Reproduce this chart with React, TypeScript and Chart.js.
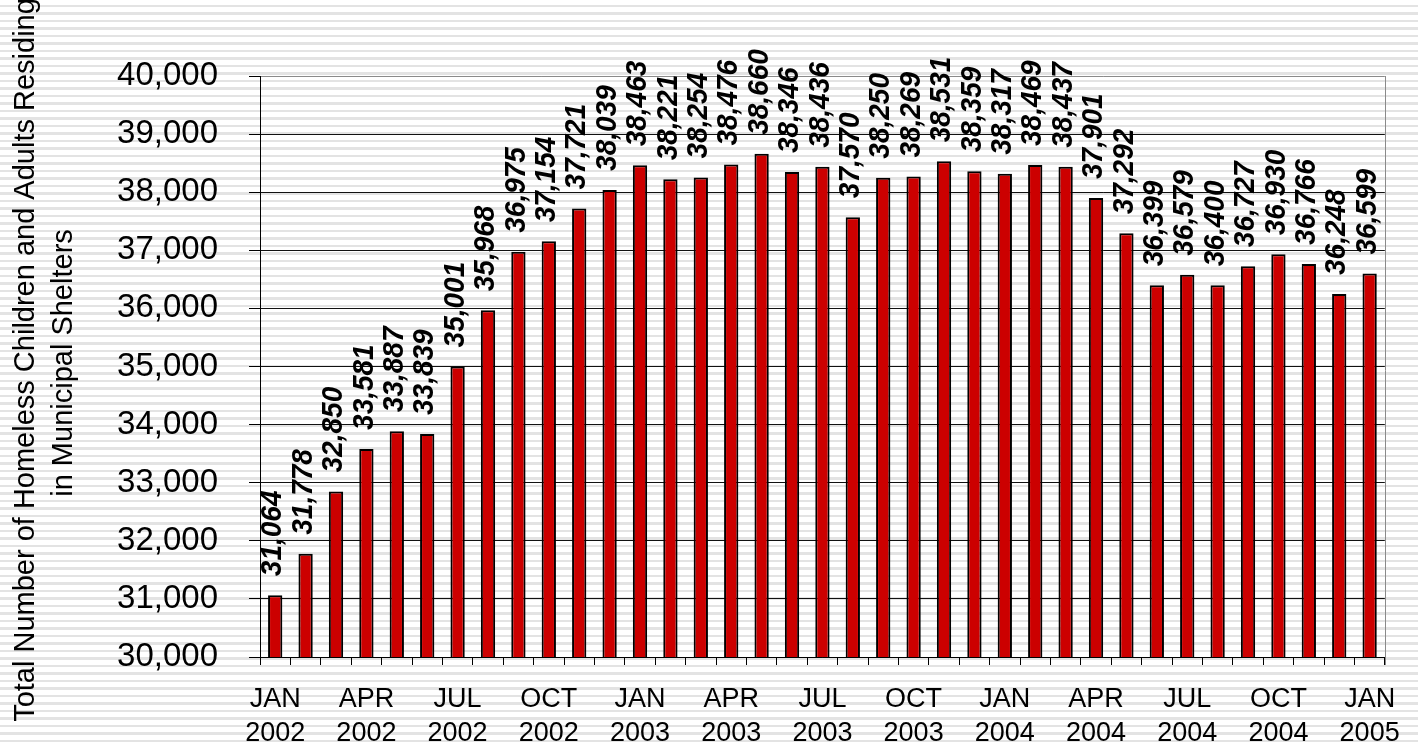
import { useEffect, useRef } from "react";
import { Chart, registerables } from "chart.js";

Chart.register(...registerables);

const categories = [
  "JAN 2002", "FEB 2002", "MAR 2002", "APR 2002", "MAY 2002", "JUN 2002",
  "JUL 2002", "AUG 2002", "SEP 2002", "OCT 2002", "NOV 2002", "DEC 2002",
  "JAN 2003", "FEB 2003", "MAR 2003", "APR 2003", "MAY 2003", "JUN 2003",
  "JUL 2003", "AUG 2003", "SEP 2003", "OCT 2003", "NOV 2003", "DEC 2003",
  "JAN 2004", "FEB 2004", "MAR 2004", "APR 2004", "MAY 2004", "JUN 2004",
  "JUL 2004", "AUG 2004", "SEP 2004", "OCT 2004", "NOV 2004", "DEC 2004",
  "JAN 2005",
];

const shelterPopulation = [
  31064, 31778, 32850, 33581, 33887, 33839,
  35001, 35968, 36975, 37154, 37721, 38039,
  38463, 38221, 38254, 38476, 38660, 38346,
  38436, 37570, 38250, 38269, 38531, 38359,
  38317, 38469, 38437, 37901, 37292, 36399,
  36579, 36400, 36727, 36930, 36766, 36248,
  36599,
];

const tickMonths = ["JAN", "APR", "JUL", "OCT"];
const yMin = 30000;
const yMax = 40000;
const yStep = 1000;
const axisTitle = [
  "Total Number of Homeless Children and Adults Residing",
  "in Municipal Shelters",
];

const FONT = '"Liberation Sans", Arial, sans-serif';

const fmt = (v: number) => v.toLocaleString("en-US");

const valueLabels = {
  id: "valueLabels",
  afterDatasetsDraw(chart: any) {
    const ctx = chart.ctx;
    const meta = chart.getDatasetMeta(0);
    ctx.save();
    ctx.font = `italic bold 28px ${FONT}`;
    ctx.fillStyle = "#000";
    ctx.textAlign = "left";
    ctx.textBaseline = "middle";
    meta.data.forEach((bar: any, i: number) => {
      ctx.save();
      ctx.translate(bar.x - 2, bar.y - 19);
      ctx.scale(1.06, 1);
      ctx.rotate(-Math.PI / 2);
      ctx.fillText(fmt(shelterPopulation[i]), 0, 0);
      ctx.restore();
    });
    ctx.restore();
  },
};

const frameAndTitle = {
  id: "frameAndTitle",
  afterDraw(chart: any) {
    const ctx = chart.ctx;
    const { top, bottom, right } = chart.chartArea;
    ctx.save();
    ctx.strokeStyle = "#8a8a8a";
    ctx.lineWidth = 1;
    ctx.beginPath();
    ctx.moveTo(Math.round(right) + 0.5, top);
    ctx.lineTo(Math.round(right) + 0.5, bottom + 8);
    ctx.stroke();

    ctx.fillStyle = "#000";
    ctx.font = `29px ${FONT}`;
    ctx.textAlign = "center";
    ctx.textBaseline = "middle";
    ctx.translate(26, 360);
    ctx.rotate(-Math.PI / 2);
    axisTitle.forEach((line, i) => {
      ctx.fillText(line, i === 0 ? 0 : -3, i * 38);
    });
    ctx.restore();
  },
};

export default function App() {
  const ref = useRef<HTMLCanvasElement>(null);

  useEffect(() => {
    if (!ref.current) return;
    const chart = new Chart(ref.current, {
      type: "bar",
      data: {
        labels: categories,
        datasets: [
          {
            data: shelterPopulation,
            backgroundColor: "#cc0000",
            borderColor: "#000000",
            borderWidth: 2,
            barPercentage: 0.47,
            categoryPercentage: 1,
          },
        ],
      },
      options: {
        responsive: false,
        animation: false,
        devicePixelRatio: 1,
        layout: { padding: { top: 76, right: 25, left: 0, bottom: 0 } },
        plugins: {
          legend: { display: false },
          tooltip: { enabled: false },
          title: { display: false },
        },
        scales: {
          x: {
            offset: true,
            grid: {
              offset: true,
              drawOnChartArea: false,
              drawTicks: true,
              tickLength: 8,
              color: "#000",
            },
            border: { color: "#000", width: 1 },
            ticks: {
              autoSkip: false,
              maxRotation: 0,
              minRotation: 0,
              padding: 18,
              color: "#000",
              font: { family: FONT, size: 27, lineHeight: 1.26 },
              callback: (_v: any, i: number) => {
                const [m, y] = categories[i].split(" ");
                return tickMonths.includes(m) ? [m, y] : "";
              },
            },
            afterFit: (scale: any) => {
              scale.height = 90;
            },
          },
          y: {
            min: yMin,
            max: yMax,
            grid: {
              color: (c: any) => (c.tick && c.tick.value === yMax ? "#8a8a8a" : "#111"),
              tickColor: "#000",
              tickLength: 11,
              lineWidth: 1,
            },
            border: { color: "#000", width: 1 },
            ticks: {
              stepSize: yStep,
              padding: 31,
              color: "#000",
              font: { family: FONT, size: 33 },
              callback: (v: any) => fmt(Number(v)),
            },
            afterFit: (scale: any) => {
              scale.width = 260;
            },
          },
        },
      },
      plugins: [valueLabels, frameAndTitle],
    });
    return () => chart.destroy();
  }, []);

  return (
    <div
      style={{
        position: "fixed",
        left: 0,
        top: 0,
        width: 1418,
        height: 747,
        background:
          "repeating-linear-gradient(to bottom, #ffffff 0px, #ffffff 5px, #e3e3e3 5px, #e3e3e3 7.5px)",
      }}
    >
      <canvas ref={ref} width={1418} height={747} />
    </div>
  );
}
